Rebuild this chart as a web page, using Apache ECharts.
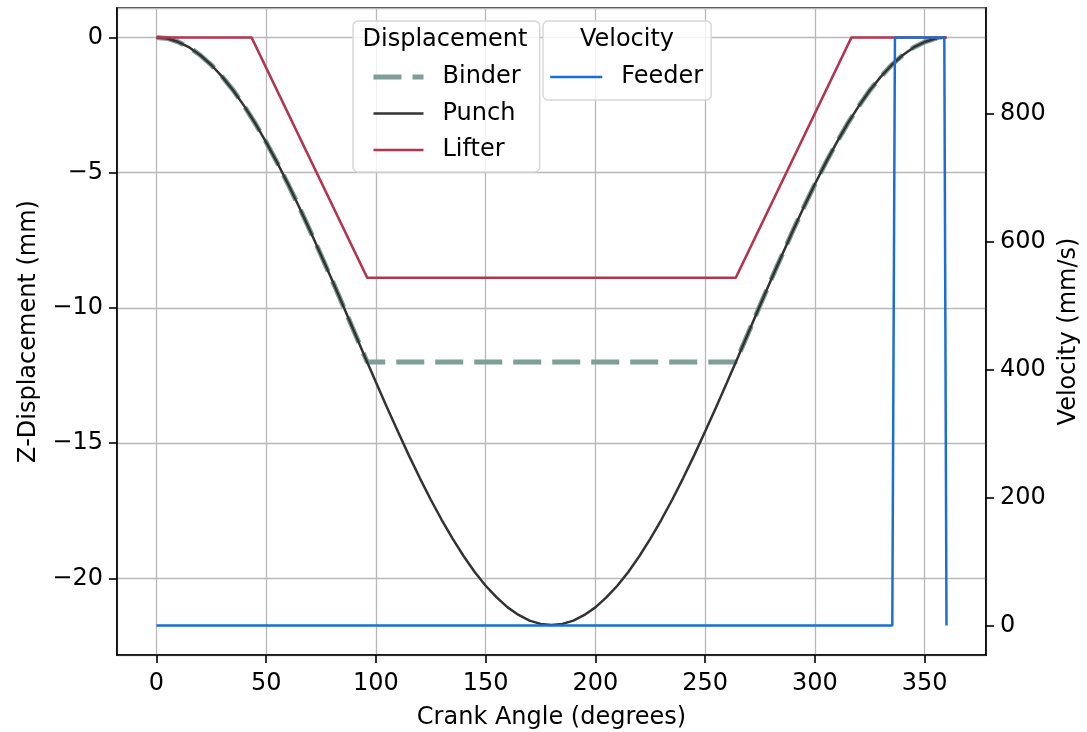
<!DOCTYPE html>
<html>
<head>
<meta charset="utf-8">
<script src="https://cdn.jsdelivr.net/npm/echarts@6/dist/echarts.min.js"></script>
<style>
  html, body { margin: 0; padding: 0; background: #fff; }
  #chart { width: 1087px; height: 732px; }
</style>
</head>
<body>
<div id="chart"></div>
<script>
// crank angle samples for the punch (degrees)
const angles = [
  0, 5, 10, 15, 20, 25, 30, 35, 40, 45, 50, 55, 60, 65, 70, 75, 80, 85, 90,
  95, 100, 105, 110, 115, 120, 125, 130, 135, 140, 145, 150, 155, 160, 165, 170, 175, 180,
  185, 190, 195, 200, 205, 210, 215, 220, 225, 230, 235, 240, 245, 250, 255, 260, 265, 270,
  275, 280, 285, 290, 295, 300, 305, 310, 315, 320, 325, 330, 335, 340, 345, 350, 355, 360
]
// punch z-displacement (mm)
const punch = [
  0, -0.04, -0.17, -0.37, -0.66, -1.02, -1.46, -1.96, -2.54, -3.18, -3.88, -4.63, -5.43, -6.27, -7.15, -8.05, -8.97, -9.91, -10.86,
  -11.81, -12.75, -13.67, -14.57, -15.45, -16.29, -17.09, -17.84, -18.54, -19.18, -19.76, -20.27, -20.70, -21.07, -21.35, -21.56, -21.68, -21.72,
  -21.68, -21.56, -21.35, -21.07, -20.70, -20.27, -19.76, -19.18, -18.54, -17.84, -17.09, -16.29, -15.45, -14.57, -13.67, -12.75, -11.81, -10.86,
  -9.91, -8.97, -8.05, -7.15, -6.27, -5.43, -4.63, -3.88, -3.18, -2.54, -1.96, -1.46, -1.02, -0.66, -0.37, -0.17, -0.04, 0
]
// binder: follows the punch, then dwells at -12 mm
const binderAngles = [
  0, 5, 10, 15, 20, 25, 30, 35, 40, 45, 50, 55, 60, 65, 70, 75, 80, 85, 90, 95, 96,
  264, 265, 270, 275, 280, 285, 290, 295, 300, 305, 310, 315, 320, 325, 330, 335, 340, 345, 350, 355, 360
]
const binder = [
  0, -0.04, -0.17, -0.37, -0.66, -1.02, -1.46, -1.96, -2.54, -3.18, -3.88, -4.63, -5.43, -6.27, -7.15, -8.05, -8.97, -9.91, -10.86, -11.81, -12,
  -12, -11.81, -10.86, -9.91, -8.97, -8.05, -7.15, -6.27, -5.43, -4.63, -3.88, -3.18, -2.54, -1.96, -1.46, -1.02, -0.66, -0.37, -0.17, -0.04, 0
]
// lifter
const lifterAngles = [0, 43.3, 96, 264, 316.7, 360]
const lifter = [0, 0, -8.88, -8.88, 0, 0]
// feeder velocity (mm/s)
const feederAngles = [0, 335.3, 336.5, 359, 360]
const feeder = [0, 0, 920, 920, 0]

const FONT = 'DejaVu Sans'
const C_BINDER = '#7f9e97'
const C_PUNCH = '#333333'
const C_LIFTER = '#b3354f'
const C_FEEDER = '#1a6fd6'
const pairs = (xs, ys) => xs.map((x, i) => [x, ys[i]])
const minusFmt = v => (v < 0 ? '\u2212' + (-v) : String(v))

const chart = echarts.init(document.getElementById('chart'))

const axisCommon = {
  axisLine: { show: true, onZero: false, lineStyle: { color: '#000', width: 1.6 } },
  axisTick: { show: true, inside: false, length: 8, lineStyle: { color: '#000', width: 1.6 } },
  axisLabel: { color: '#000', fontFamily: FONT, fontSize: 24, showMinLabel: false, showMaxLabel: false, formatter: minusFmt },
  nameTextStyle: { color: '#000', fontFamily: FONT, fontSize: 24 },
  nameLocation: 'middle'
}

// legend: line only, no marker dot
const hiddenDot = { color: 'rgba(0,0,0,0)', borderWidth: 0, opacity: 0 }
const legendText = { color: '#000', fontFamily: FONT, fontSize: 24, lineHeight: 26, padding: [0, 0, 0, 14] }
const legendBox = {
  orient: 'vertical',
  itemHeight: 14,
  textStyle: legendText,
  itemStyle: hiddenDot,
  backgroundColor: 'rgba(255,255,255,0.8)',
  borderColor: '#d6d6d6', borderWidth: 1.4, borderRadius: 5
}

const option = {
  animation: false,
  backgroundColor: '#fff',
  grid: {
    left: 117, right: 101, top: 8, bottom: 77,
    show: true, borderColor: '#000', borderWidth: 1.6,
    outerBoundsMode: 'none'
  },
  xAxis: {
    ...axisCommon,
    type: 'value',
    min: -18, max: 378, splitNumber: 8,
    name: 'Crank Angle (degrees)',
    nameGap: 51,
    axisLabel: { ...axisCommon.axisLabel, margin: 17 },
    splitLine: { show: true, lineStyle: { color: '#b8b8b8', width: 1.3 } }
  },
  yAxis: [
    {
      ...axisCommon,
      type: 'value',
      min: -22.83, max: 1.087, splitNumber: 5,
      name: 'Z-Displacement (mm)',
      nameGap: 76,
      axisLabel: { ...axisCommon.axisLabel, margin: 14 },
      splitLine: { show: true, lineStyle: { color: '#b8b8b8', width: 1.3 } }
    },
    {
      ...axisCommon,
      type: 'value',
      position: 'right',
      min: -46, max: 966, splitNumber: 5,
      name: 'Velocity (mm/s)',
      nameGap: 71,
      axisLabel: { ...axisCommon.axisLabel, margin: 14 },
      splitLine: { show: false }
    }
  ],
  legend: [
    {
      ...legendBox,
      data: [
        { name: 'Binder', lineStyle: { width: 5, type: [28, 11], color: C_BINDER }, itemStyle: hiddenDot },
        { name: 'Punch', lineStyle: { width: 2.5, color: C_PUNCH }, itemStyle: hiddenDot },
        { name: 'Lifter', lineStyle: { width: 2.5, color: C_LIFTER }, itemStyle: hiddenDot }
      ],
      left: 353, top: 21,
      padding: [43, 19, 9, 18],
      itemWidth: 50, itemGap: 10.5
    },
    {
      ...legendBox,
      data: [
        { name: 'Feeder', lineStyle: { width: 2.5, color: C_FEEDER }, itemStyle: hiddenDot }
      ],
      left: 543, top: 21,
      padding: [43, 8, 10, 6],
      itemWidth: 52
    }
  ],
  graphic: [
    { type: 'text', x: 445, y: 40, z: 100,
      style: { text: 'Displacement', fill: '#000', font: '24px "DejaVu Sans"', align: 'center', verticalAlign: 'middle' } },
    { type: 'text', x: 627, y: 40, z: 100,
      style: { text: 'Velocity', fill: '#000', font: '24px "DejaVu Sans"', align: 'center', verticalAlign: 'middle' } }
  ],
  series: [
    {
      name: 'Binder', type: 'line', yAxisIndex: 0,
      data: pairs(binderAngles, binder),
      symbol: 'none', showSymbol: false,
      lineStyle: { color: C_BINDER, width: 5, type: [28, 11] },
      itemStyle: { color: C_BINDER },
      z: 2
    },
    {
      name: 'Punch', type: 'line', yAxisIndex: 0,
      data: pairs(angles, punch),
      symbol: 'none', showSymbol: false,
      lineStyle: { color: C_PUNCH, width: 2.5 },
      itemStyle: { color: C_PUNCH },
      z: 3
    },
    {
      name: 'Lifter', type: 'line', yAxisIndex: 0,
      data: pairs(lifterAngles, lifter),
      symbol: 'none', showSymbol: false,
      lineStyle: { color: C_LIFTER, width: 2.5 },
      itemStyle: { color: C_LIFTER },
      z: 3
    },
    {
      name: 'Feeder', type: 'line', yAxisIndex: 1,
      data: pairs(feederAngles, feeder),
      symbol: 'none', showSymbol: false,
      lineStyle: { color: C_FEEDER, width: 2.5 },
      itemStyle: { color: C_FEEDER },
      z: 4
    }
  ]
}

chart.setOption(option)
window.addEventListener('resize', () => chart.resize())
</script>
</body>
</html>
